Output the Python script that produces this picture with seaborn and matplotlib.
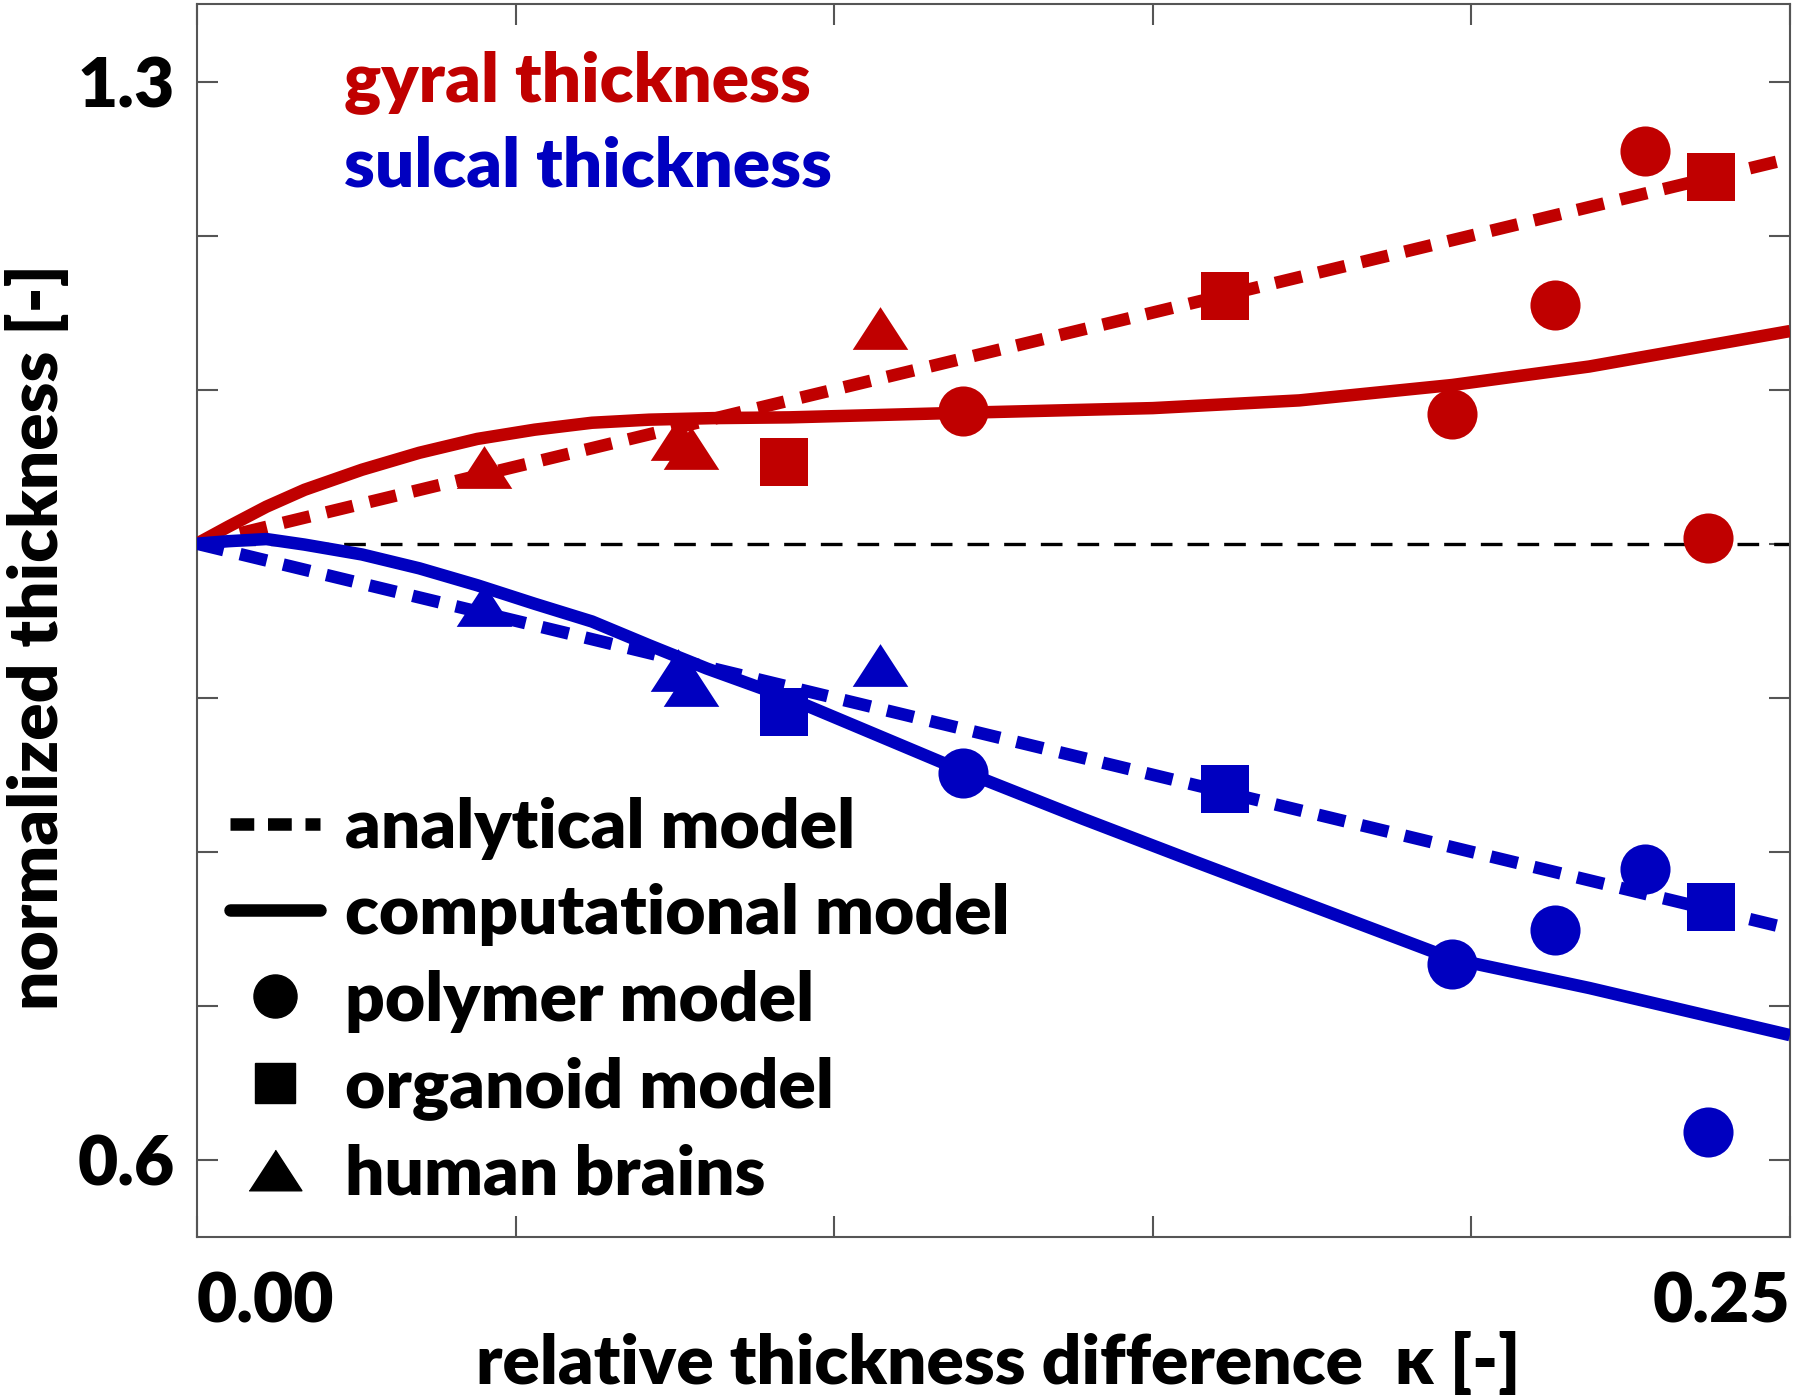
import numpy as np
import pandas as pd
import matplotlib
matplotlib.use("Agg")
import matplotlib.pyplot as plt
from matplotlib.lines import Line2D
import seaborn as sns

# ---------------- data ----------------
RED = "#C00000"
BLUE = "#0000C0"

# analytical model (dashed)
ana_k = [0.0, 0.05, 0.10, 0.15, 0.20, 0.25]
ana_gyral = [1.0, 1.05, 1.10, 1.15, 1.20, 1.25]
ana_sulcal = [1.0, 0.95, 0.90, 0.85, 0.80, 0.75]

# computational model (solid)
comp_g_k = [0.0, 0.0049, 0.0109, 0.0169, 0.0259, 0.0349, 0.044, 0.053, 0.062,
            0.071, 0.081, 0.093, 0.1204, 0.15, 0.173, 0.197, 0.2185, 0.25]
comp_gyral = [1.0, 1.011, 1.024, 1.035, 1.048, 1.059, 1.068, 1.074, 1.0785,
              1.0805, 1.0815, 1.082, 1.085, 1.088, 1.093, 1.103, 1.115, 1.138]
comp_s_k = [0.0, 0.0049, 0.0109, 0.0169, 0.0259, 0.0349, 0.044, 0.053, 0.062,
            0.071, 0.080, 0.093, 0.1204, 0.139, 0.157, 0.173, 0.197, 0.2185, 0.25]
comp_sulcal = [1.0, 1.0016, 1.003, 0.9994, 0.993, 0.984, 0.973, 0.961, 0.9495,
               0.934, 0.919, 0.8996, 0.852, 0.8215, 0.793, 0.768, 0.7305, 0.7116, 0.681]

# experimental points
poly_k = [0.1203, 0.1969, 0.2131, 0.2273, 0.2372]
poly_gyral = [1.086, 1.084, 1.155, 1.255, 1.004]
poly_sulcal = [0.851, 0.727, 0.749, 0.789, 0.618]

org_k = [0.0922, 0.1614, 0.2376]
org_gyral = [1.053, 1.161, 1.238]
org_sulcal = [0.891, 0.841, 0.764]

hum_k = [0.045, 0.0755, 0.0775, 0.1072]
hum_gyral = [1.050, 1.068, 1.062, 1.140]
hum_sulcal = [0.960, 0.918, 0.908, 0.921]

x_ticks = [0.0, 0.05, 0.10, 0.15, 0.20, 0.25]
x_ticklabels = ["0.00", "", "", "", "", "0.25"]
y_ticks = [0.6, 0.7, 0.8, 0.9, 1.0, 1.1, 1.2, 1.3]
y_ticklabels = ["0.6", "", "", "", "", "", "", "1.3"]

# ---------------- style ----------------
sns.set_style("ticks")
plt.rcParams["font.family"] = ["Lato", "DejaVu Sans"]
plt.rcParams["font.weight"] = "heavy"
plt.rcParams["text.color"] = "black"
plt.rcParams["axes.labelcolor"] = "black"
plt.rcParams["xtick.labelcolor"] = "black"
plt.rcParams["ytick.labelcolor"] = "black"
FS = 50
FW = "heavy"

fig = plt.figure(figsize=(18, 13.98), dpi=100)
ax = fig.add_axes([0.1094, 0.1152, 0.885, 0.8816])

LW = 9.0
DASH = (2.2, 1.35)

def line(k, v, color, dashed):
    df = pd.DataFrame({"k": k, "v": v})
    sns.lineplot(data=df, x="k", y="v", color=color, lw=LW, ax=ax,
                 estimator=None, sort=False, zorder=3)
    l = ax.lines[-1]
    l.set_solid_capstyle("butt")
    l.set_solid_joinstyle("round")
    if dashed:
        l.set_dashes(DASH)
        l.set_dash_capstyle("butt")

# reference line at 1.0
ref = pd.DataFrame({"k": [0.0, 0.25], "v": [1.0, 1.0]})
sns.lineplot(data=ref, x="k", y="v", color="black", lw=2.4, ax=ax, zorder=2)
ax.lines[-1].set_dashes((6.5, 4.5))

line(ana_k, ana_gyral, RED, True)
line(ana_k, ana_sulcal, BLUE, True)
line(comp_g_k, comp_gyral, RED, False)
line(comp_s_k, comp_sulcal, BLUE, False)

TRI = [(-0.65, -0.5), (0.65, -0.5), (0.0, 0.5)]

def pts(k, v, color, marker, s):
    df = pd.DataFrame({"k": k, "v": v})
    sns.scatterplot(data=df, x="k", y="v", color=color, marker=marker, s=s,
                    linewidth=0, ax=ax, zorder=5)

pts(poly_k, poly_gyral, RED, "o", 1300)
pts(poly_k, poly_sulcal, BLUE, "o", 1300)
pts(org_k, org_gyral, RED, "s", 1150)
pts(org_k, org_sulcal, BLUE, "s", 1150)
pts(hum_k, hum_gyral, RED, TRI, 1600)
pts(hum_k, hum_sulcal, BLUE, TRI, 1600)

# ---------------- axes ----------------
ax.set_xlim(0.0, 0.25)
ax.set_ylim(0.55, 1.35)
ax.set_xticks(x_ticks)
ax.set_xticklabels(x_ticklabels)
ax.set_yticks(y_ticks)
ax.set_yticklabels(y_ticklabels)
ax.tick_params(direction="in", length=15, width=1.5, color="#555555",
               top=True, right=True, labelsize=FS)
ax.tick_params(axis="x", pad=25)
ax.tick_params(axis="y", pad=16)
for lab in ax.get_xticklabels() + ax.get_yticklabels():
    lab.set_fontweight(FW)
xl = ax.get_xticklabels()
xl[0].set_horizontalalignment("left")
xl[-1].set_horizontalalignment("right")
for sp in ax.spines.values():
    sp.set_color("#555555")
    sp.set_linewidth(1.5)

ax.set_xlabel("relative thickness difference  κ [-]", fontsize=FS, fontweight=FW)
ax.set_ylabel("normalized thickness [-]", fontsize=FS, fontweight=FW)
ax.xaxis.set_label_coords(0.503, -0.103)
ax.xaxis.label.set_va("center")
ax.yaxis.set_label_coords(-0.100, 0.487)
ax.yaxis.label.set_va("center")

ax.text(0.0923, 0.9217, "gyral thickness", color=RED, fontsize=FS,
        fontweight=FW, transform=ax.transAxes, va="baseline", ha="left")
ax.text(0.0923, 0.8527, "sulcal thickness", color=BLUE, fontsize=FS,
        fontweight=FW, transform=ax.transAxes, va="baseline", ha="left")

handles = [
    Line2D([], [], color="black", lw=LW, dashes=(1.9, 1.1)),
    Line2D([], [], color="black", lw=LW),
    Line2D([], [], color="black", marker="o", ls="none", markersize=31),
    Line2D([], [], color="black", marker="s", ls="none", markersize=29),
    Line2D([], [], color="black", marker=TRI, ls="none", markersize=38),
]
labels = ["analytical model", "computational model", "polymer model",
          "organoid model", "human brains"]
leg = ax.legend(handles, labels, loc="lower left", bbox_to_anchor=(0.0207, 0.025),
                frameon=False, fontsize=FS, handlelength=1.3, handletextpad=0.36,
                labelspacing=0.335, borderpad=0, borderaxespad=0)
for t in leg.get_texts():
    t.set_fontweight(FW)

fig.savefig("out.png", dpi=100)
